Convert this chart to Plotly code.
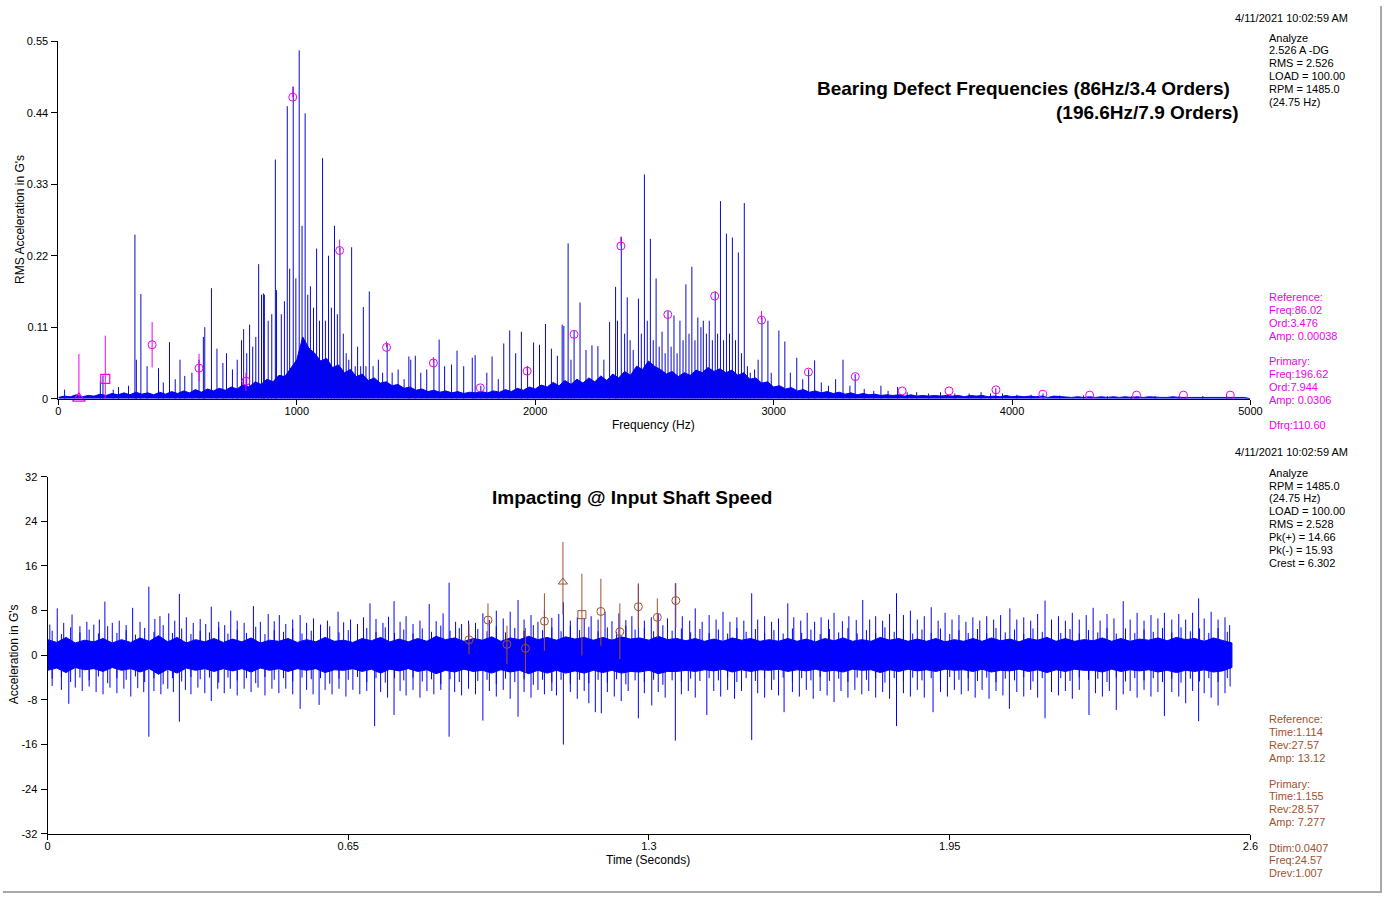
import plotly.graph_objects as go

W, H = 1396, 903

# ---------------- spectrum (top) data ----------------
FLOOR_STEP_HZ = 25
FLOOR_AMP = [
    0.002, 0.004, 0.003, 0.006, 0.003, 0.005, 0.004, 0.007, 0.005, 0.008, 0.006, 0.009, 0.006, 0.010, 0.007, 0.009, 0.006, 0.010, 0.007, 0.011,
    0.008, 0.012, 0.009, 0.014, 0.010, 0.015, 0.012, 0.016, 0.013, 0.018, 0.015, 0.022, 0.018, 0.026, 0.022, 0.030, 0.026, 0.036, 0.034, 0.048,
    0.060, 0.095, 0.078, 0.070, 0.058, 0.062, 0.048, 0.052, 0.040, 0.045, 0.034, 0.038, 0.028, 0.032, 0.024, 0.026, 0.020, 0.022, 0.016, 0.018,
    0.013, 0.015, 0.011, 0.013, 0.010, 0.012, 0.009, 0.011, 0.008, 0.010, 0.009, 0.011, 0.009, 0.012, 0.010, 0.014, 0.011, 0.016, 0.013, 0.018,
    0.015, 0.021, 0.018, 0.025, 0.020, 0.028, 0.022, 0.030, 0.024, 0.032, 0.026, 0.035, 0.028, 0.038, 0.032, 0.042, 0.036, 0.050, 0.045, 0.058,
    0.050, 0.045, 0.038, 0.042, 0.034, 0.040, 0.036, 0.044, 0.040, 0.048, 0.042, 0.046, 0.040, 0.044, 0.036, 0.040, 0.030, 0.032, 0.024, 0.026,
    0.018, 0.020, 0.015, 0.017, 0.012, 0.014, 0.010, 0.012, 0.009, 0.011, 0.008, 0.010, 0.007, 0.009, 0.006, 0.008, 0.006, 0.007, 0.005, 0.006,
    0.005, 0.006, 0.004, 0.006, 0.004, 0.005, 0.004, 0.005, 0.004, 0.005, 0.004, 0.005, 0.003, 0.005, 0.004, 0.005, 0.003, 0.004, 0.003, 0.005,
    0.003, 0.004, 0.003, 0.004, 0.003, 0.004, 0.002, 0.004, 0.003, 0.003, 0.002, 0.003, 0.002, 0.003, 0.002, 0.003, 0.002, 0.003, 0.002, 0.003,
    0.002, 0.003, 0.002, 0.003, 0.002, 0.002, 0.002, 0.003, 0.002, 0.002, 0.002, 0.003, 0.002, 0.002, 0.002, 0.003, 0.002, 0.002, 0.002, 0.002,
    0.0,
]
FLOOR_FREQ = list(range(0, FLOOR_STEP_HZ * len(FLOOR_AMP), FLOOR_STEP_HZ))

PEAK_FREQ = [
    26, 176, 187, 230, 252, 294, 321, 327, 346, 372, 420, 440, 466, 490, 510, 530, 560, 590, 608, 614,
    642, 665, 690, 705, 730, 750, 768, 777, 790, 802, 815, 828, 840, 852, 860, 864, 880, 895, 910, 915,
    935, 948, 960, 970, 985, 996, 1010, 1022, 1035, 1046, 1057, 1070, 1083, 1095, 1108, 1120, 1133, 1145, 1158, 1170,
    1181, 1195, 1207, 1218, 1230, 1245, 1255, 1268, 1279, 1290, 1304, 1320, 1342, 1360, 1379, 1400, 1425, 1450, 1470, 1478,
    1497, 1520, 1545, 1575, 1597, 1620, 1649, 1672, 1700, 1736, 1748, 1772, 1797, 1819, 1845, 1868, 1893, 1918, 1942, 1968,
    1993, 2018, 2043, 2068, 2093, 2113, 2120, 2138, 2150, 2163, 2188, 2213, 2238, 2263, 2288, 2312, 2337, 2345, 2361, 2375,
    2386, 2398, 2411, 2433, 2445, 2458, 2470, 2483, 2495, 2507, 2520, 2532, 2545, 2557, 2570, 2582, 2595, 2607, 2620, 2632,
    2645, 2657, 2670, 2682, 2695, 2705, 2718, 2730, 2743, 2755, 2765, 2777, 2790, 2802, 2815, 2827, 2840, 2852, 2865, 2877,
    2890, 2902, 2920, 2935, 2951, 2976, 2990, 3022, 3047, 3070, 3097, 3122, 3147, 3172, 3200, 3230, 3260, 3291, 3320, 3342,
    3380, 3420, 3450, 3480, 3520, 3560, 3600, 3650, 3700, 3760, 3820, 3870, 3910, 3932, 3960, 4020, 4080, 4130, 4200, 4300,
    4400, 4500, 4600, 4700, 4800, 4900,
]
PEAK_AMP = [
    0.014, 0.027, 0.036, 0.014, 0.018, 0.020, 0.2525, 0.060, 0.161, 0.050, 0.047, 0.025, 0.087, 0.030, 0.060, 0.035, 0.040, 0.060, 0.095, 0.110,
    0.170, 0.077, 0.055, 0.070, 0.045, 0.060, 0.090, 0.107, 0.070, 0.114, 0.080, 0.095, 0.207, 0.160, 0.162, 0.160, 0.120, 0.130, 0.368, 0.167,
    0.130, 0.150, 0.450, 0.200, 0.480, 0.185, 0.536, 0.266, 0.439, 0.160, 0.173, 0.140, 0.231, 0.120, 0.370, 0.120, 0.220, 0.140, 0.266, 0.130,
    0.232, 0.100, 0.070, 0.060, 0.233, 0.050, 0.080, 0.050, 0.141, 0.050, 0.165, 0.050, 0.060, 0.040, 0.085, 0.040, 0.045, 0.030, 0.065, 0.060,
    0.066, 0.040, 0.045, 0.060, 0.091, 0.050, 0.0527, 0.074, 0.050, 0.063, 0.067, 0.020, 0.040, 0.065, 0.030, 0.085, 0.105, 0.070, 0.103, 0.050,
    0.0865, 0.083, 0.115, 0.077, 0.066, 0.114, 0.112, 0.239, 0.060, 0.105, 0.148, 0.075, 0.082, 0.081, 0.060, 0.118, 0.172, 0.120, 0.249, 0.100,
    0.156, 0.090, 0.075, 0.154, 0.100, 0.345, 0.120, 0.246, 0.090, 0.185, 0.080, 0.103, 0.070, 0.135, 0.080, 0.128, 0.070, 0.120, 0.090, 0.176,
    0.100, 0.203, 0.090, 0.125, 0.110, 0.120, 0.100, 0.120, 0.090, 0.165, 0.100, 0.304, 0.090, 0.254, 0.100, 0.248, 0.090, 0.225, 0.070, 0.301,
    0.050, 0.040, 0.045, 0.060, 0.125, 0.120, 0.040, 0.105, 0.088, 0.040, 0.063, 0.030, 0.045, 0.059, 0.025, 0.020, 0.030, 0.060, 0.020, 0.038,
    0.015, 0.012, 0.020, 0.012, 0.018, 0.010, 0.010, 0.008, 0.010, 0.008, 0.008, 0.010, 0.008, 0.016, 0.008, 0.006, 0.006, 0.008, 0.005, 0.005,
    0.004, 0.004, 0.004, 0.004, 0.004, 0.005,
]

# harmonic cursor markers
HARM_FREQ = [393.2, 589.9, 786.5, 983.1, 1179.7, 1376.3, 1572.9, 1769.6, 1966.2, 2162.8, 2359.4, 2556.1,
             2752.7, 2949.3, 3145.9, 3342.5, 3539.2, 3735.8, 3932.4, 4129.0, 4325.6, 4522.3, 4718.9, 4915.5]
HARM_AMP = [0.083, 0.047, 0.027, 0.464, 0.228, 0.079, 0.055, 0.0167, 0.0425, 0.099, 0.235, 0.1295,
            0.158, 0.121, 0.041, 0.034, 0.012, 0.012, 0.0137, 0.007, 0.0055, 0.0055, 0.0055, 0.0055]
REF_FREQ, REF_AMP = 86.02, 0.00038
PRIM_FREQ, PRIM_AMP = 196.62, 0.0306

# magenta cursor segments on the spectrum
SEG_FREQ = [86.02, 196.62, 393.2, 589.9, 786.5, 983.1, 1179.7, 1376.3, 1572.9, 1966.2, 2359.4, 2949.3]
SEG_LO = [-0.006, -0.006, 0.048, 0.027, 0.012, 0.464, 0.228, 0.079, 0.055, 0.0425, 0.235, 0.121]
SEG_HI = [0.069, 0.097, 0.118, 0.069, 0.040, 0.480, 0.245, 0.088, 0.064, 0.050, 0.249, 0.135]

# ---------------- waveform (bottom) data ----------------
BAND_STEP_S = 0.02
BAND_UP = [
    2.8, 2.3, 3.2, 2.2, 2.7, 2.4, 3.0, 2.2, 2.8, 2.3, 3.1, 2.5, 3.5, 2.4, 3.2, 2.2, 2.8, 2.4, 3.0, 2.3,
    2.9, 2.4, 3.1, 2.2, 2.7, 2.5, 3.0, 2.3, 2.8, 2.4, 3.2, 2.5, 2.7, 2.3, 3.0, 2.6, 3.2, 2.4, 2.9, 2.4,
    3.0, 2.5, 3.4, 2.8, 3.1, 2.5, 3.0, 2.7, 3.3, 2.5, 3.1, 2.8, 3.4, 2.8, 3.2, 2.7, 3.3, 2.9, 3.2, 2.7,
    3.2, 2.7, 3.3, 2.9, 3.1, 2.7, 3.4, 2.8, 3.0, 2.6, 3.0, 2.5, 2.9, 2.5, 3.1, 2.7, 3.0, 2.5, 2.8, 2.5,
    3.0, 2.5, 2.9, 2.4, 3.0, 2.6, 3.1, 2.5, 2.8, 2.5, 3.2, 2.7, 3.0, 2.5, 2.9, 2.5, 3.0, 2.4, 2.8, 2.5,
    3.0, 2.5, 3.1, 2.6, 2.9, 2.4, 3.0, 2.7, 3.2, 2.5, 3.0, 2.5, 2.8, 2.6, 3.1, 2.5, 3.0, 2.5, 2.9, 2.7,
    3.1, 2.6, 3.2, 2.8, 3.0, 2.5, 3.1, 2.7, 2.2,
]
BAND_LO = [
    -2.7, -2.3, -3.1, -2.2, -2.6, -2.4, -2.9, -2.2, -2.7, -2.4, -3.0, -2.4, -3.4, -2.5, -3.2, -2.3, -2.7, -2.4, -2.9, -2.4,
    -2.8, -2.4, -3.0, -2.3, -2.7, -2.4, -2.9, -2.4, -2.7, -2.4, -3.1, -2.6, -2.7, -2.4, -2.9, -2.5, -3.2, -2.5, -2.8, -2.4,
    -2.9, -2.6, -3.3, -2.7, -3.0, -2.5, -2.9, -2.7, -3.2, -2.6, -3.0, -2.7, -3.3, -2.7, -3.2, -2.7, -3.2, -2.8, -3.2, -2.7,
    -3.1, -2.7, -3.2, -2.9, -3.0, -2.7, -3.3, -2.9, -2.9, -2.7, -2.9, -2.6, -2.8, -2.5, -3.0, -2.6, -2.9, -2.6, -2.7, -2.5,
    -2.9, -2.6, -2.8, -2.5, -2.9, -2.7, -3.0, -2.5, -2.7, -2.6, -3.1, -2.6, -2.9, -2.5, -2.8, -2.6, -2.9, -2.5, -2.7, -2.6,
    -2.9, -2.5, -3.0, -2.7, -2.8, -2.5, -2.9, -2.6, -3.1, -2.6, -2.9, -2.5, -2.7, -2.7, -3.0, -2.5, -2.9, -2.6, -2.8, -2.6,
    -3.0, -2.7, -3.1, -2.7, -2.9, -2.6, -3.0, -2.8, -2.2,
]
BAND_T = [round(i * BAND_STEP_S, 2) for i in range(len(BAND_UP))]

# medium hairlines of the waveform, read on a 0.02 s grid offset by 0.01 s
MID_UP = [
    4.4, 3.8, 5.0, 4.1, 4.6, 3.9, 5.2, 4.0, 4.5, 3.7, 4.9, 4.2, 5.4, 4.0, 4.8, 3.8, 4.4, 4.1, 5.0, 3.9,
    4.6, 4.0, 5.1, 3.8, 4.5, 4.2, 4.8, 3.9, 4.4, 4.0, 5.2, 4.1, 4.5, 3.8, 4.9, 4.2, 5.0, 4.0, 4.6, 3.9,
    4.8, 4.2, 5.3, 4.4, 4.9, 4.0, 4.7, 4.3, 5.2, 4.1, 4.9, 4.4, 5.4, 4.5, 5.0, 4.3, 5.2, 4.5, 5.1, 4.3,
    5.0, 4.2, 5.3, 4.6, 4.9, 4.3, 5.4, 4.4, 4.8, 4.1, 4.7, 4.0, 4.6, 3.9, 4.9, 4.2, 4.7, 4.0, 4.5, 3.9,
    4.8, 4.0, 4.6, 3.8, 4.7, 4.1, 4.9, 3.9, 4.5, 4.0, 5.0, 4.2, 4.7, 3.9, 4.6, 4.0, 4.8, 3.8, 4.5, 4.0,
    4.7, 3.9, 4.9, 4.1, 4.6, 3.8, 4.8, 4.2, 5.0, 4.0, 4.7, 3.9, 4.5, 4.1, 4.9, 3.9, 4.8, 4.0, 4.6, 4.2,
    4.9, 4.1, 5.0, 4.3, 4.8, 4.0, 4.9, 4.2,
]
MID_DN = [
    -4.2, -3.9, -4.8, -4.0, -4.5, -3.8, -5.0, -4.1, -4.4, -3.8, -4.8, -4.1, -5.2, -4.1, -4.7, -3.9, -4.3, -4.0, -4.9, -4.0,
    -4.5, -4.1, -5.0, -3.9, -4.4, -4.1, -4.7, -4.0, -4.3, -4.1, -5.1, -4.2, -4.4, -3.9, -4.8, -4.1, -4.9, -4.1, -4.5, -4.0,
    -4.7, -4.3, -5.2, -4.3, -4.8, -4.1, -4.6, -4.4, -5.1, -4.2, -4.8, -4.3, -5.3, -4.4, -4.9, -4.4, -5.1, -4.4, -5.0, -4.4,
    -4.9, -4.3, -5.2, -4.5, -4.8, -4.4, -5.3, -4.5, -4.7, -4.2, -4.6, -4.1, -4.5, -4.0, -4.8, -4.1, -4.6, -4.1, -4.4, -4.0,
    -4.7, -4.1, -4.5, -3.9, -4.6, -4.2, -4.8, -4.0, -4.4, -4.1, -4.9, -4.1, -4.6, -4.0, -4.5, -4.1, -4.7, -3.9, -4.4, -4.1,
    -4.6, -4.0, -4.8, -4.2, -4.5, -3.9, -4.7, -4.1, -4.9, -4.1, -4.6, -4.0, -4.4, -4.2, -4.8, -4.0, -4.7, -4.1, -4.5, -4.1,
    -4.8, -4.2, -4.9, -4.2, -4.7, -4.1, -4.8, -4.1,
]
MID_T = [round(0.01 + BAND_STEP_S * i, 3) for i in range(len(MID_UP))]

SPIKE_UP_T = [
    0.005, 0.021, 0.035, 0.053, 0.07, 0.085, 0.1, 0.112, 0.124, 0.14, 0.155, 0.17, 0.184, 0.2, 0.219, 0.232, 0.243, 0.262, 0.275, 0.285,
    0.3, 0.315, 0.33, 0.342, 0.354, 0.37, 0.383, 0.396, 0.41, 0.425, 0.445, 0.46, 0.477, 0.49, 0.501, 0.515, 0.53, 0.546, 0.56, 0.575,
    0.59, 0.605, 0.628, 0.64, 0.655, 0.67, 0.683, 0.697, 0.71, 0.725, 0.737, 0.749, 0.762, 0.775, 0.79, 0.805, 0.825, 0.84, 0.855, 0.868,
    0.882, 0.895, 0.91, 0.925, 0.941, 0.955, 0.97, 0.985, 1.0, 1.017, 1.03, 1.045, 1.06, 1.074, 1.09, 1.105, 1.115, 1.13, 1.145, 1.16,
    1.175, 1.19, 1.205, 1.22, 1.235, 1.25, 1.263, 1.277, 1.29, 1.305, 1.32, 1.34, 1.357, 1.372, 1.388, 1.4, 1.415, 1.43, 1.445, 1.46,
    1.475, 1.49, 1.505, 1.522, 1.535, 1.55, 1.565, 1.58, 1.6, 1.613, 1.628, 1.642, 1.658, 1.672, 1.688, 1.7, 1.718, 1.732, 1.748, 1.762,
    1.777, 1.79, 1.805, 1.82, 1.835, 1.85, 1.865, 1.88, 1.895, 1.91, 1.925, 1.94, 1.955, 1.97, 1.985, 2.0, 2.015, 2.03, 2.045, 2.06,
    2.08, 2.095, 2.11, 2.125, 2.14, 2.156, 2.17, 2.185, 2.2, 2.215, 2.23, 2.245, 2.26, 2.275, 2.29, 2.305, 2.325, 2.34, 2.355, 2.37,
    2.385, 2.4, 2.414, 2.43, 2.445, 2.46, 2.475, 2.488, 2.5, 2.515, 2.53, 2.545, 2.555,
]
SPIKE_UP_A = [
    5.5, 8.4, 5.8, 7.3, 5.2, 6.0, 5.5, 6.4, 9.6, 5.8, 6.2, 5.4, 8.5, 6.0, 12.3, 6.5, 7.0, 7.5, 6.2, 11.0,
    6.8, 5.8, 6.5, 5.6, 8.7, 6.0, 5.4, 8.0, 6.2, 5.8, 8.8, 6.0, 7.4, 6.1, 7.2, 5.6, 6.4, 7.2, 5.8, 6.6,
    5.5, 6.2, 7.8, 5.9, 6.4, 5.6, 6.8, 9.3, 6.5, 5.8, 6.9, 9.7, 6.0, 7.0, 5.6, 6.2, 9.2, 6.1, 7.5, 13.0,
    6.0, 5.6, 6.2, 5.8, 7.5, 6.3, 8.0, 6.6, 7.8, 9.9, 6.4, 7.2, 6.0, 8.2, 6.7, 7.4, 9.5, 6.2, 6.8, 6.6,
    7.0, 6.4, 7.8, 6.1, 7.5, 6.3, 7.0, 12.7, 6.2, 6.8, 7.4, 6.6, 12.9, 7.0, 6.2, 8.4, 6.0, 7.2, 6.4, 7.8,
    6.0, 6.8, 6.2, 11.1, 6.4, 7.0, 6.0, 6.6, 9.3, 6.8, 6.2, 7.6, 6.0, 6.8, 6.4, 7.6, 6.1, 7.0, 6.3, 9.9,
    6.4, 7.0, 6.2, 7.4, 11.1, 7.2, 8.0, 6.4, 7.0, 8.6, 6.2, 7.6, 6.4, 7.2, 6.0, 6.8, 6.2, 7.0, 6.4, 7.2,
    8.4, 6.4, 6.8, 6.2, 7.4, 9.8, 6.4, 7.0, 6.2, 7.6, 6.4, 7.2, 8.5, 6.2, 7.4, 6.6, 9.7, 6.4, 7.6, 6.2,
    7.2, 6.6, 7.6, 6.4, 7.4, 6.4, 7.6, 10.2, 6.6, 7.8, 6.4, 6.8, 5.4,
]
SPIKE_DN_T = [
    0.01, 0.03, 0.046, 0.06, 0.075, 0.09, 0.105, 0.12, 0.135, 0.15, 0.165, 0.18, 0.195, 0.208, 0.219, 0.23, 0.245, 0.26, 0.272, 0.285,
    0.298, 0.31, 0.325, 0.34, 0.354, 0.368, 0.382, 0.395, 0.41, 0.425, 0.44, 0.455, 0.47, 0.485, 0.5, 0.515, 0.53, 0.546, 0.56, 0.574,
    0.587, 0.6, 0.615, 0.63, 0.645, 0.66, 0.675, 0.69, 0.707, 0.72, 0.735, 0.749, 0.762, 0.775, 0.79, 0.805, 0.82, 0.835, 0.85, 0.868,
    0.88, 0.895, 0.91, 0.925, 0.941, 0.955, 0.97, 0.985, 1.0, 1.017, 1.03, 1.045, 1.06, 1.074, 1.09, 1.1, 1.115, 1.13, 1.145, 1.16,
    1.17, 1.184, 1.197, 1.21, 1.225, 1.24, 1.255, 1.277, 1.29, 1.306, 1.32, 1.335, 1.357, 1.37, 1.385, 1.4, 1.425, 1.44, 1.455, 1.47,
    1.485, 1.5, 1.522, 1.535, 1.55, 1.565, 1.58, 1.592, 1.61, 1.625, 1.64, 1.655, 1.67, 1.685, 1.7, 1.715, 1.73, 1.745, 1.76, 1.775,
    1.79, 1.805, 1.82, 1.835, 1.85, 1.865, 1.88, 1.895, 1.914, 1.93, 1.945, 1.96, 1.975, 1.99, 2.005, 2.02, 2.035, 2.05, 2.065, 2.079,
    2.095, 2.11, 2.125, 2.14, 2.156, 2.17, 2.185, 2.2, 2.215, 2.23, 2.251, 2.265, 2.28, 2.295, 2.31, 2.325, 2.34, 2.355, 2.37, 2.385,
    2.4, 2.414, 2.43, 2.445, 2.46, 2.475, 2.488, 2.5, 2.515, 2.53, 2.545, 2.556,
]
SPIKE_DN_A = [
    -5.5, -6.2, -8.7, -5.8, -6.4, -5.6, -6.6, -7.0, -5.8, -6.8, -6.0, -7.4, -5.9, -6.6, -14.6, -6.4, -7.0, -6.0, -6.6, -11.9,
    -6.2, -7.0, -5.8, -6.8, -8.2, -6.0, -6.8, -6.0, -7.2, -6.0, -6.6, -5.8, -7.2, -6.0, -6.8, -6.0, -7.0, -9.6, -6.2, -7.0,
    -8.9, -6.2, -7.0, -6.0, -7.4, -6.2, -7.0, -6.4, -12.7, -6.6, -7.6, -10.7, -6.4, -7.2, -6.2, -7.6, -6.4, -7.0, -6.2, -14.6,
    -6.6, -7.2, -6.0, -7.0, -11.7, -6.4, -7.4, -6.2, -7.8, -11.0, -6.6, -7.6, -6.2, -7.0, -6.4, -7.2, -16.0, -6.6, -7.8, -6.4,
    -8.6, -10.2, -10.4, -6.6, -7.4, -8.2, -6.4, -11.3, -6.8, -9.0, -6.6, -7.6, -15.3, -7.0, -6.4, -7.6, -10.7, -6.4, -7.4, -6.2,
    -7.8, -6.4, -15.2, -6.8, -7.6, -6.2, -7.2, -10.2, -6.6, -7.4, -6.2, -7.8, -6.4, -7.2, -8.4, -6.4, -7.6, -6.2, -7.0, -6.4,
    -7.6, -6.6, -7.8, -12.7, -6.8, -7.4, -6.2, -7.6, -10.2, -6.6, -7.4, -6.2, -7.0, -6.4, -7.6, -6.2, -7.8, -6.4, -7.2, -9.6,
    -6.6, -7.4, -6.2, -7.6, -11.3, -6.6, -7.2, -6.4, -7.8, -6.2, -10.7, -6.8, -7.4, -6.4, -9.8, -7.0, -6.4, -7.6, -6.2, -7.4,
    -6.6, -10.9, -6.6, -7.4, -8.6, -6.4, -11.8, -6.8, -7.6, -9.0, -6.8, -5.6,
]

# time-waveform cursor markers
TW_MARK_T = [0.911, 0.952, 0.993, 1.033, 1.074, 1.114, 1.155, 1.196, 1.237, 1.277, 1.318, 1.358]
TW_MARK_AMP = [2.78, 6.3, 1.95, 1.24, 6.1, 13.12, 7.277, 7.85, 4.2, 8.7, 6.8, 9.8]
TW_LINE_LO = [0.2, 3.1, -1.6, -3.1, 0.8, 7.3, -0.05, 1.7, -0.7, 4.9, 3.1, 4.9]
TW_LINE_HI = [5.5, 9.3, 5.3, 4.9, 11.1, 20.3, 14.6, 13.7, 9.3, 12.9, 10.2, 12.9]

SPEC_XTICKS = [0, 1000, 2000, 3000, 4000, 5000]
SPEC_YTICKS = [0, 0.11, 0.22, 0.33, 0.44, 0.55]
TW_XTICKS = [0, 0.65, 1.3, 1.95, 2.6]
TW_YTICKS = [-32, -24, -16, -8, 0, 8, 16, 24, 32]

# ---------------- styling ----------------
BLUE = "#0000FF"
DBLUE = "#0808D0"
MAG = "#EE00EE"
BROWN = "#A0522D"
FONT = "Liberation Sans"


def sticks(xs, lo, hi):
    X, Y = [], []
    for x, a, b in zip(xs, lo, hi):
        X += [x, x, None]
        Y += [a, b, None]
    return X, Y


fig = go.Figure()

# spectrum floor
fig.add_trace(go.Scatter(x=FLOOR_FREQ, y=FLOOR_AMP, mode="lines", fill="tozeroy",
                         line=dict(color=BLUE, width=1), fillcolor=BLUE,
                         xaxis="x", yaxis="y", hoverinfo="skip"))
sx, sy = sticks(PEAK_FREQ, [0] * len(PEAK_FREQ), PEAK_AMP)
fig.add_trace(go.Scatter(x=sx, y=sy, mode="lines", line=dict(color=DBLUE, width=1),
                         xaxis="x", yaxis="y", hoverinfo="skip"))
mx, my = sticks(SEG_FREQ, SEG_LO, SEG_HI)
fig.add_trace(go.Scatter(x=mx, y=my, mode="lines", line=dict(color=MAG, width=1),
                         xaxis="x", yaxis="y", hoverinfo="skip", cliponaxis=False))
fig.add_trace(go.Scatter(x=HARM_FREQ, y=HARM_AMP, mode="markers",
                         marker=dict(symbol="circle-open", size=8, color=MAG, line=dict(width=1)),
                         xaxis="x", yaxis="y", hoverinfo="skip"))
fig.add_trace(go.Scatter(x=[REF_FREQ], y=[REF_AMP], mode="markers",
                         marker=dict(symbol="triangle-up-open", size=11, color=MAG, line=dict(width=1.2)),
                         xaxis="x", yaxis="y", hoverinfo="skip", cliponaxis=False))
fig.add_trace(go.Scatter(x=[PRIM_FREQ], y=[PRIM_AMP], mode="markers",
                         marker=dict(symbol="square-open", size=9, color=MAG, line=dict(width=1.2)),
                         xaxis="x", yaxis="y", hoverinfo="skip"))

# waveform core band
fig.add_trace(go.Scatter(x=BAND_T + BAND_T[::-1], y=BAND_UP + BAND_LO[::-1], mode="lines",
                         fill="toself", fillcolor=BLUE, line=dict(color=BLUE, width=1),
                         xaxis="x2", yaxis="y2", hoverinfo="skip"))
# waveform hairlines
hx, hy = [], []
for ts, amps in ((MID_T, MID_UP), (MID_T, MID_DN), (SPIKE_UP_T, SPIKE_UP_A), (SPIKE_DN_T, SPIKE_DN_A)):
    a, b = sticks(ts, [0] * len(ts), amps)
    hx += a
    hy += b
fig.add_trace(go.Scatter(x=hx, y=hy, mode="lines", line=dict(color=BLUE, width=1),
                         xaxis="x2", yaxis="y2", hoverinfo="skip"))
bx, by = sticks(TW_MARK_T, TW_LINE_LO, TW_LINE_HI)
fig.add_trace(go.Scatter(x=bx, y=by, mode="lines", line=dict(color=BROWN, width=1),
                         xaxis="x2", yaxis="y2", hoverinfo="skip"))
syms = ["circle-open"] * len(TW_MARK_T)
syms[5] = "triangle-up-open"
syms[6] = "square-open"
fig.add_trace(go.Scatter(x=TW_MARK_T, y=TW_MARK_AMP, mode="markers",
                         marker=dict(symbol=syms, size=8, color=BROWN, line=dict(width=1)),
                         xaxis="x2", yaxis="y2", hoverinfo="skip"))


def fx(p):
    return p / W


def fy(p):
    return 1 - p / H


axis_common = dict(showline=True, linecolor="black", linewidth=1, ticks="outside",
                   tickcolor="black", showgrid=False, zeroline=False,
                   tickfont=dict(family=FONT, size=11, color="black"))
x_axis_style = dict(ticklen=5, ticklabelstandoff=-3, **axis_common)
y_axis_style = dict(ticklen=6, ticklabelstandoff=1, **axis_common)

fig.update_layout(
    width=W, height=H, autosize=False,
    margin=dict(l=0, r=0, t=0, b=0),
    paper_bgcolor="white", plot_bgcolor="white",
    showlegend=False,
    font=dict(family=FONT, size=11, color="black"),
    xaxis=dict(domain=[fx(56), fx(1261)], range=[0, 5000], tickvals=SPEC_XTICKS,
               anchor="y", **x_axis_style),
    yaxis=dict(domain=[fy(398), fy(35.7)], range=[0, 0.55], tickvals=SPEC_YTICKS,
               ticktext=[f"{v:g}" for v in SPEC_YTICKS], anchor="x", **y_axis_style),
    xaxis2=dict(domain=[fx(45), fx(1261)], range=[0, 2.6], tickvals=TW_XTICKS,
                ticktext=[f"{v:g}" for v in TW_XTICKS], anchor="y2", **x_axis_style),
    yaxis2=dict(domain=[fy(839), fy(477)], range=[-32, 32], tickvals=TW_YTICKS,
                ticktext=[f"{v:g}" for v in TW_YTICKS], anchor="x2", **y_axis_style),
    shapes=[
        # window frame seen at the right and bottom edge of the picture
        dict(type="line", xref="paper", yref="paper", x0=fx(1393), x1=fx(1393), y0=fy(898), y1=1,
             line=dict(color="#A8A8A8", width=2)),
        dict(type="line", xref="paper", yref="paper", x0=0, x1=fx(1394), y0=fy(898), y1=fy(898),
             line=dict(color="#A8A8A8", width=2)),
    ],
)

ann = []


def text(x, y, s, color="black", size=11, bold=False, anchor="left", angle=0):
    ann.append(dict(x=fx(x), y=fy(y), xref="paper", yref="paper", text=(f"<b>{s}</b>" if bold else s),
                    showarrow=False, xanchor=anchor, yanchor="middle", textangle=angle,
                    font=dict(family=FONT, size=size, color=color)))


# top panel texts
text(1362, 12, "4/11/2021 10:02:59 AM", anchor="right")
for i, s in enumerate(["Analyze", "2.526 A -DG", "RMS = 2.526", "LOAD = 100.00", "RPM = 1485.0", "(24.75 Hz)"]):
    text(1278, 32 + 13 * i, s)
for i, s in enumerate(["Reference:", "Freq:86.02", "Ord:3.476", "Amp: 0.00038"]):
    text(1278, 295 + 13 * i, s, color=MAG)
for i, s in enumerate(["Primary:", "Freq:196.62", "Ord:7.944", "Amp: 0.0306"]):
    text(1278, 360 + 13 * i, s, color=MAG)
text(1278, 425, "Dfrq:110.60", color=MAG)
text(1242, 84, "Bearing Defect Frequencies (86Hz/3.4 Orders)", size=19, bold=True, anchor="right")
text(1251, 108, "(196.6Hz/7.9 Orders)", size=19, bold=True, anchor="right")
text(658, 425, "Frequency (Hz)", size=12, anchor="center")
text(17, 216, "RMS Acceleration in G's", size=12, anchor="center", angle=-90)

# bottom panel texts
text(1362, 452, "4/11/2021 10:02:59 AM", anchor="right")
for i, s in enumerate(["Analyze", "RPM = 1485.0", "(24.75 Hz)", "LOAD = 100.00", "RMS = 2.528",
                       "Pk(+) = 14.66", "Pk(-) = 15.93", "Crest = 6.302"]):
    text(1278, 473 + 13 * i, s)
for i, s in enumerate(["Reference:", "Time:1.114", "Rev:27.57", "Amp: 13.12"]):
    text(1278, 723 + 13 * i, s, color=BROWN)
for i, s in enumerate(["Primary:", "Time:1.155", "Rev:28.57", "Amp: 7.277"]):
    text(1278, 788 + 13 * i, s, color=BROWN)
for i, s in enumerate(["Dtim:0.0407", "Freq:24.57", "Drev:1.007"]):
    text(1278, 853 + 13 * i, s, color=BROWN)
text(636, 498, "Impacting @ Input Shaft Speed", size=19, bold=True, anchor="center")
text(652, 866, "Time (Seconds)", size=12, anchor="center")
text(11, 657, "Acceleration in G's", size=12, anchor="center", angle=-90)

fig.update_layout(annotations=ann)

fig.write_html(
    "out.html", include_plotlyjs=True, config={"displayModeBar": False},
    post_script=("document.documentElement.style.margin='0';document.body.style.margin='0';"
                 "document.body.style.padding='0';document.documentElement.style.overflow='hidden';"
                 "document.body.style.overflow='hidden';"),
)
